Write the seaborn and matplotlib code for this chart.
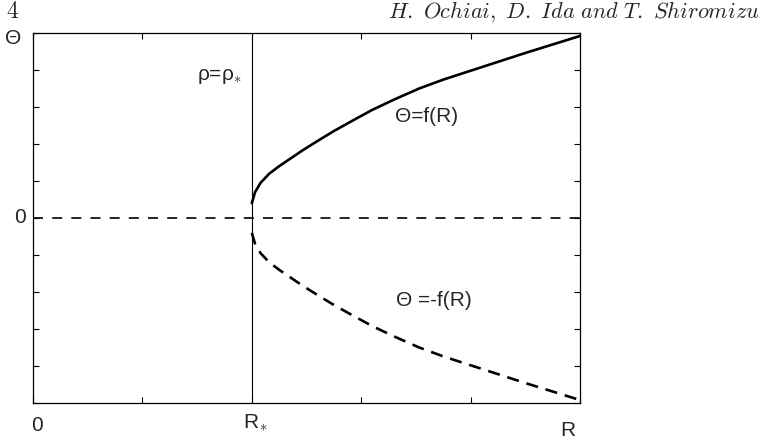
import numpy as np
import pandas as pd
import matplotlib
matplotlib.use("Agg")
import matplotlib.pyplot as plt
import seaborn as sns

# data
R_vals = [2.0, 2.03, 2.08, 2.16, 2.25, 2.35, 2.47, 2.6, 2.75, 2.92, 3.1, 3.3,
          3.53, 3.75, 4.0, 4.25, 4.5, 4.75, 5.0]
f_vals = [0.40, 0.70, 0.95, 1.20, 1.40, 1.60, 1.84, 2.08, 2.35, 2.63, 2.92, 3.20,
          3.50, 3.74, 3.98, 4.22, 4.46, 4.69, 4.92]
R_star = 2.0
x_ticks = [0, 1, 2, 3, 4, 5]
y_ticks = [-5, -4, -3, -2, -1, 0, 1, 2, 3, 4, 5]

sns.set_theme(style="ticks")
plt.rcParams['font.family'] = ['Liberation Sans', 'DejaVu Sans']
plt.rcParams['mathtext.fontset'] = 'cm'

df = pd.DataFrame({"R": R_vals + R_vals,
                   "Theta": f_vals + [-v for v in f_vals],
                   "branch": ["plus"] * len(R_vals) + ["minus"] * len(R_vals)})

fig = plt.figure(figsize=(7.63, 4.44), dpi=100)
ax = fig.add_axes([33/763, 1-403/444, (580-33)/763, (403-33)/444])

sns.lineplot(data=df[df.branch == "plus"], x="R", y="Theta", ax=ax,
             color="black", lw=1.9, sort=False)
sns.lineplot(data=df[df.branch == "minus"], x="R", y="Theta", ax=ax,
             color="black", lw=1.9, sort=False, dashes=False)
ax.lines[-1].set_dashes((4.6, 3.0))

ax.axhline(0, color="black", lw=1.2, dashes=(6, 5.5))
ax.axvline(R_star, color="black", lw=0.8)

ax.set_xlim(0, 5)
ax.set_ylim(-5, 5)
ax.set_xticks(x_ticks)
ax.set_yticks(y_ticks)
ax.set_xticklabels([])
ax.set_yticklabels([])
ax.tick_params(direction="in", length=4, width=0.8, top=True, right=True, color="black")
for s in ax.spines.values():
    s.set_color("black")
    s.set_linewidth(0.9)
ax.set_xlabel("")
ax.set_ylabel("")

fs = 15
def px(x, y):
    return x / 763, 1 - y / 444

fig.text(*px(13, 38), "Θ", fontsize=fs, ha="center", va="center")
fig.text(*px(20, 217), "0", fontsize=fs, ha="center", va="center")
fig.text(*px(37, 425), "0", fontsize=fs, ha="center", va="center")
fig.text(*px(255, 423), r"R$_{\ast}$", fontsize=fs, ha="center", va="center")
fig.text(*px(568, 430), "R", fontsize=fs, ha="center", va="center")
fig.text(*px(220, 76), r"ρ=ρ$_{\ast}$", fontsize=fs, ha="center", va="center")
fig.text(*px(427, 117), "Θ=f(R)", fontsize=fs, ha="center", va="center")
fig.text(*px(434, 300), "Θ =-f(R)", fontsize=fs, ha="center", va="center")

fig.text(*px(13, 12), r"$\mathrm{4}$", fontsize=17, ha="center", va="center")
fig.text(*px(760, 12), r"$\mathit{H.\ Ochiai,\ D.\ Ida\ and\ T.\ Shiromizu}$",
         fontsize=16, ha="right", va="center")

fig.savefig("out.png", dpi=100)
